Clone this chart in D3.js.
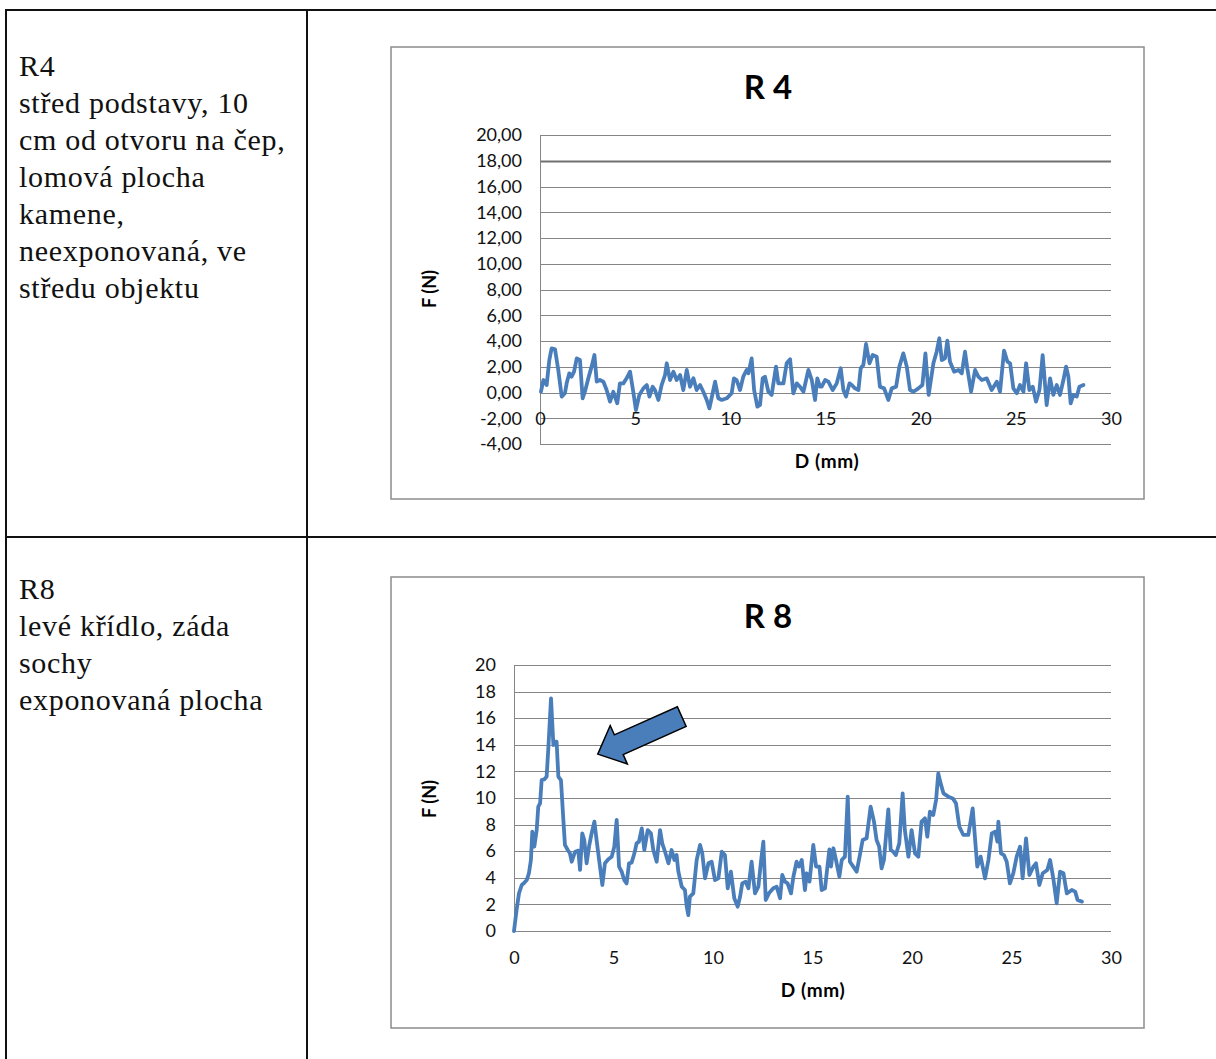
<!DOCTYPE html>
<html><head><meta charset="utf-8">
<script src="https://cdn.jsdelivr.net/npm/d3@7"></script>
<style>body{margin:0;background:#fff}svg{display:block}</style>
</head><body>
<script>
// ---- data ----
const r4Title = "R 4";
const r8Title = "R 8";
const xTicks = [0, 5, 10, 15, 20, 25, 30];
const r4YTicks = [-4, -2, 0, 2, 4, 6, 8, 10, 12, 14, 16, 18, 20];
const r8YTicks = [0, 2, 4, 6, 8, 10, 12, 14, 16, 18, 20];
const r4Text = ["R4", "střed podstavy, 10", "cm od otvoru na čep,", "lomová plocha", "kamene,", "neexponovaná, ve", "středu objektu"];
const r8Text = ["R8", "levé křídlo, záda", "sochy", "exponovaná plocha"];
// [D (mm), F (N)]
const r4Points = [[0.05,0.06],[0.18,0.97],[0.35,0.58],[0.49,2.52],[0.61,3.43],[0.79,3.35],[0.96,1.75],[1.14,-0.32],[1.31,-0.06],[1.40,0.71],[1.54,1.49],[1.66,1.23],[1.79,1.62],[1.93,2.65],[2.10,2.52],[2.24,-0.45],[2.36,0.06],[2.54,1.10],[2.71,2.01],[2.86,2.91],[2.98,0.84],[3.15,0.97],[3.33,0.84],[3.50,0.19],[3.68,-0.71],[3.85,0.06],[4.06,-0.84],[4.20,0.71],[4.38,0.71],[4.55,1.10],[4.73,1.62],[4.90,0.06],[5.04,-1.36],[5.22,-0.19],[5.43,0.32],[5.61,0.58],[5.75,-0.32],[5.92,0.45],[6.04,0.19],[6.22,-0.58],[6.39,0.58],[6.57,1.36],[6.66,2.27],[6.83,0.97],[7.01,1.62],[7.18,0.97],[7.36,1.36],[7.53,0.19],[7.71,1.75],[7.88,0.45],[8.06,1.10],[8.23,0.19],[8.41,0.58],[8.58,0.06],[8.76,-0.58],[8.90,-1.23],[9.07,-0.06],[9.20,0.84],[9.37,-0.45],[9.55,-0.58],[9.81,-0.45],[10.07,-0.06],[10.19,1.10],[10.33,0.97],[10.51,0.19],[10.68,1.23],[10.86,1.75],[10.95,1.49],[11.12,2.65],[11.25,0.19],[11.42,-1.10],[11.56,-0.97],[11.70,1.10],[11.82,1.23],[12.00,0.06],[12.17,-0.19],[12.40,2.01],[12.52,0.71],[12.79,0.71],[12.96,2.27],[13.14,2.58],[13.31,-0.06],[13.49,0.71],[13.66,0.45],[13.84,0.06],[14.10,1.75],[14.28,0.97],[14.45,-0.58],[14.57,1.10],[14.71,0.45],[14.80,0.45],[14.98,0.97],[15.15,0.84],[15.38,0.19],[15.59,0.71],[15.80,1.88],[15.94,0.19],[16.08,-0.32],[16.26,0.71],[16.38,0.58],[16.55,0.32],[16.73,0.19],[16.85,1.88],[16.99,2.14],[17.13,3.77],[17.31,2.27],[17.48,2.91],[17.69,2.78],[17.86,0.45],[18.08,0.32],[18.30,-0.58],[18.48,0.32],[18.71,0.45],[18.88,2.01],[19.09,3.04],[19.27,2.01],[19.44,0.19],[19.62,0.06],[19.88,0.32],[20.09,0.58],[20.25,3.04],[20.42,-0.19],[20.67,2.27],[20.84,3.17],[20.98,4.21],[21.11,2.52],[21.28,2.65],[21.40,4.03],[21.54,2.39],[21.76,1.62],[21.98,1.75],[22.16,1.49],[22.33,3.17],[22.45,1.88],[22.65,0.06],[22.86,1.75],[23.03,1.23],[23.21,0.97],[23.47,1.10],[23.73,0.19],[24.00,0.84],[24.17,0.06],[24.38,3.25],[24.56,2.39],[24.70,2.27],[24.87,0.32],[25.05,-0.06],[25.22,0.58],[25.40,0.06],[25.54,2.27],[25.71,0.19],[25.89,0.45],[26.06,-0.71],[26.24,0.19],[26.41,2.91],[26.62,-0.97],[26.80,1.10],[26.97,-0.19],[27.15,0.58],[27.32,-0.19],[27.50,0.97],[27.64,2.01],[27.76,1.23],[27.88,-0.84],[28.02,-0.19],[28.20,-0.32],[28.34,0.45],[28.55,0.58]];
const r8Points = [[0,0],[0.13,1.58],[0.25,2.83],[0.39,3.46],[0.52,3.63],[0.64,3.83],[0.75,4.34],[0.85,5.34],[0.92,7.47],[1.02,6.34],[1.14,7.59],[1.22,9.35],[1.31,9.60],[1.39,11.35],[1.52,11.40],[1.64,11.60],[1.73,13.86],[1.86,17.49],[1.98,13.98],[2.06,14.24],[2.14,14.24],[2.23,11.60],[2.36,11.35],[2.48,8.35],[2.56,6.47],[2.70,6.09],[2.81,5.84],[2.90,5.21],[3.07,5.96],[3.23,6.04],[3.32,4.59],[3.43,7.34],[3.53,6.84],[3.65,5.09],[3.77,6.34],[3.90,7.34],[4.04,8.22],[4.15,6.84],[4.32,4.84],[4.44,3.46],[4.57,5.09],[4.74,5.39],[4.91,5.59],[5.04,6.34],[5.16,8.35],[5.28,4.84],[5.41,4.46],[5.54,3.83],[5.66,3.58],[5.78,5.09],[5.91,5.14],[6.05,5.84],[6.16,6.59],[6.28,6.72],[6.42,7.72],[6.55,6.09],[6.72,7.59],[6.88,7.34],[7.00,6.09],[7.17,5.21],[7.34,7.59],[7.45,6.59],[7.59,5.96],[7.76,5.09],[7.92,6.09],[8.06,5.34],[8.17,5.71],[8.26,4.46],[8.43,3.33],[8.59,3.08],[8.68,1.83],[8.76,1.20],[8.84,2.58],[9.01,2.83],[9.18,5.34],[9.35,6.47],[9.46,5.84],[9.60,3.96],[9.77,5.09],[9.93,5.21],[10.10,3.83],[10.27,3.96],[10.44,5.96],[10.60,5.71],[10.74,3.21],[10.90,4.46],[11.07,2.46],[11.24,1.83],[11.36,2.58],[11.47,3.58],[11.64,3.71],[11.78,3.21],[11.94,5.21],[12.11,2.83],[12.28,3.33],[12.41,5.21],[12.53,6.72],[12.65,2.33],[12.81,2.83],[13.03,3.21],[13.20,3.33],[13.37,2.46],[13.48,4.21],[13.62,3.71],[13.75,3.58],[13.92,2.83],[14.04,4.08],[14.20,5.21],[14.32,4.84],[14.46,5.34],[14.62,3.08],[14.71,4.34],[14.85,3.71],[15.04,6.47],[15.18,4.84],[15.35,4.84],[15.46,3.08],[15.63,3.21],[15.75,4.84],[15.85,6.14],[15.93,4.84],[16.05,6.22],[16.18,5.34],[16.35,4.09],[16.47,5.34],[16.63,5.59],[16.77,10.10],[16.88,5.21],[17.05,4.84],[17.22,4.46],[17.38,5.71],[17.52,6.84],[17.72,6.97],[17.92,9.35],[18.09,8.22],[18.22,6.84],[18.35,6.34],[18.47,4.71],[18.59,5.34],[18.81,9.15],[18.93,6.09],[19.06,5.96],[19.19,5.71],[19.36,6.59],[19.53,10.35],[19.64,7.59],[19.82,5.59],[19.98,7.59],[20.15,5.84],[20.32,5.59],[20.48,8.22],[20.65,8.47],[20.77,7.09],[20.90,8.97],[21.07,8.72],[21.21,9.85],[21.32,11.85],[21.44,11.10],[21.58,10.35],[21.83,10.10],[22.05,9.97],[22.21,9.60],[22.38,7.84],[22.58,7.22],[22.83,7.22],[23.05,9.22],[23.16,7.09],[23.28,4.84],[23.45,5.59],[23.67,3.96],[23.84,5.34],[24.01,7.34],[24.18,7.47],[24.29,6.72],[24.34,8.22],[24.47,5.84],[24.62,5.71],[24.76,5.21],[24.92,3.58],[25.09,4.34],[25.26,5.59],[25.43,6.34],[25.56,3.96],[25.73,6.97],[25.90,4.21],[26.10,4.84],[26.23,5.09],[26.40,3.46],[26.57,4.34],[26.80,4.59],[26.94,5.34],[27.10,3.96],[27.27,2.08],[27.44,4.46],[27.61,4.34],[27.78,2.83],[28.03,3.08],[28.20,2.96],[28.32,2.33],[28.54,2.21]];
// annotation arrow in R8 (data coords): tip and tail
const r8ArrowTip = [4.21, 13.3];
const r8ArrowTail = [8.43, 16.12];

// ---- drawing ----
const W = 1216, H = 1059;
const svg = d3.select("body").append("svg").attr("width", W).attr("height", H);
const gridColor = "#868686", lineColor = "#4a7ebb";
const sans = "Lato, 'Open Sans', sans-serif";
const serif = "'Liberation Serif', 'Times New Roman', serif";

// table lines
const tbl = svg.append("g").attr("stroke", "#111").attr("stroke-width", 2);
tbl.append("line").attr("x1", 5).attr("x2", W).attr("y1", 10).attr("y2", 10);
tbl.append("line").attr("x1", 5).attr("x2", W).attr("y1", 537).attr("y2", 537);
tbl.append("line").attr("x1", 6).attr("x2", 6).attr("y1", 9).attr("y2", H);
tbl.append("line").attr("x1", 307).attr("x2", 307).attr("y1", 9).attr("y2", H);

function cellText(lines, y0) {
  svg.append("g").selectAll("text").data(lines).join("text")
    .attr("x", 19).attr("y", (d, i) => y0 + i * 37)
    .attr("font-family", serif).attr("font-size", 30).attr("letter-spacing", 0.7).attr("fill", "#111")
    .text(d => d);
}
cellText(r4Text, 76);
cellText(r8Text, 599);

function chart(cfg) {
  const g = svg.append("g");
  g.append("rect").attr("x", cfg.box[0]).attr("y", cfg.box[1]).attr("width", cfg.box[2]).attr("height", cfg.box[3])
    .attr("fill", "#fff").attr("stroke", "#8c8c8c").attr("stroke-width", 1.5);
  const x = d3.scaleLinear().domain([0, 30]).range([cfg.left, cfg.right]);
  const y = d3.scaleLinear().domain(cfg.yDomain).range([cfg.bottom, cfg.top]);
  // gridlines
  g.append("g").selectAll("line").data(cfg.yTicks).join("line")
    .attr("x1", cfg.left).attr("x2", cfg.right)
    .attr("y1", d => Math.round(y(d)) + 0.5).attr("y2", d => Math.round(y(d)) + 0.5)
    .attr("stroke", d => d === cfg.darkTick ? "#707070" : gridColor)
    .attr("stroke-width", d => d === cfg.darkTick ? 1.8 : 1);
  g.append("line").attr("x1", cfg.left + 0.5).attr("x2", cfg.left + 0.5)
    .attr("y1", cfg.top).attr("y2", cfg.bottom).attr("stroke", gridColor);
  // y axis labels
  const ya = g.append("g").attr("transform", `translate(${cfg.left - 18},0)`)
    .call(d3.axisLeft(y).tickValues(cfg.yTicks).tickSize(0).tickPadding(0).tickFormat(cfg.yFormat));
  ya.select(".domain").remove();
  ya.selectAll("text").attr("font-family", sans).attr("font-size", 18).attr("fill", "#111");
  // x axis labels
  const xa = g.append("g").attr("transform", `translate(0,${y(0) + 20})`)
    .call(d3.axisBottom(x).tickValues(xTicks).tickSize(0).tickPadding(0));
  xa.select(".domain").remove();
  xa.selectAll("text").attr("font-family", sans).attr("font-size", 18).attr("fill", "#111");
  // line
  const line = d3.line().x(d => x(d[0])).y(d => y(d[1]));
  g.append("path").datum(cfg.points).attr("d", line).attr("fill", "none")
    .attr("stroke", lineColor).attr("stroke-width", 3.8).attr("stroke-linejoin", "round").attr("stroke-linecap", "round");
  // titles
  g.append("text").attr("x", 768).attr("y", cfg.titleY).attr("text-anchor", "middle")
    .attr("font-family", sans).attr("font-weight", "bold").attr("font-size", 33).attr("fill", "#000").text(cfg.title);
  g.append("text").attr("transform", `translate(436,${cfg.yTitleY}) rotate(-90)`).attr("text-anchor", "middle")
    .attr("font-family", sans).attr("font-weight", "bold").attr("font-size", 18).attr("fill", "#000").text("F (N)");
  g.append("text").attr("x", cfg.xTitleX).attr("y", cfg.xTitleY).attr("text-anchor", "middle")
    .attr("font-family", sans).attr("font-weight", "bold").attr("font-size", 19).attr("letter-spacing", 0.6).attr("fill", "#000").text("D (mm)");
  return {x, y, g};
}

const fmt2 = v => d3.format(".2f")(v).replace(".", ",").replace("\u2212", "-");
chart({box: [391, 47, 753, 452], left: 540, right: 1111, top: 135, bottom: 444, yDomain: [-4, 20],
  yTicks: r4YTicks, yFormat: fmt2, darkTick: 18, points: r4Points, title: r4Title,
  titleY: 99, yTitleY: 289, xTitleX: 827, xTitleY: 468});
const c8 = chart({box: [391, 577, 753, 451], left: 514, right: 1111, top: 665, bottom: 931, yDomain: [0, 20],
  yTicks: r8YTicks, yFormat: d3.format("d"), darkTick: null, points: r8Points, title: r8Title,
  titleY: 628, yTitleY: 799, xTitleX: 813, xTitleY: 997});

// block arrow annotation
(function () {
  const tx = c8.x(r8ArrowTip[0]), ty = c8.y(r8ArrowTip[1]);
  const ex = c8.x(r8ArrowTail[0]), ey = c8.y(r8ArrowTail[1]);
  const len = Math.hypot(ex - tx, ey - ty);
  const ang = Math.atan2(ey - ty, ex - tx) * 180 / Math.PI;
  const headL = 23, headW = 21, shaftW = 10.8;
  const pts = [[0, 0], [headL, -headW], [headL, -shaftW], [len, -shaftW], [len, shaftW], [headL, shaftW], [headL, headW]];
  c8.g.append("polygon").attr("points", pts.map(p => p.join(",")).join(" "))
    .attr("transform", `translate(${tx},${ty}) rotate(${ang})`)
    .attr("fill", "#4a7ebb").attr("stroke", "#000").attr("stroke-width", 1.5).attr("stroke-linejoin", "miter");
})();
</script>
</body></html>
